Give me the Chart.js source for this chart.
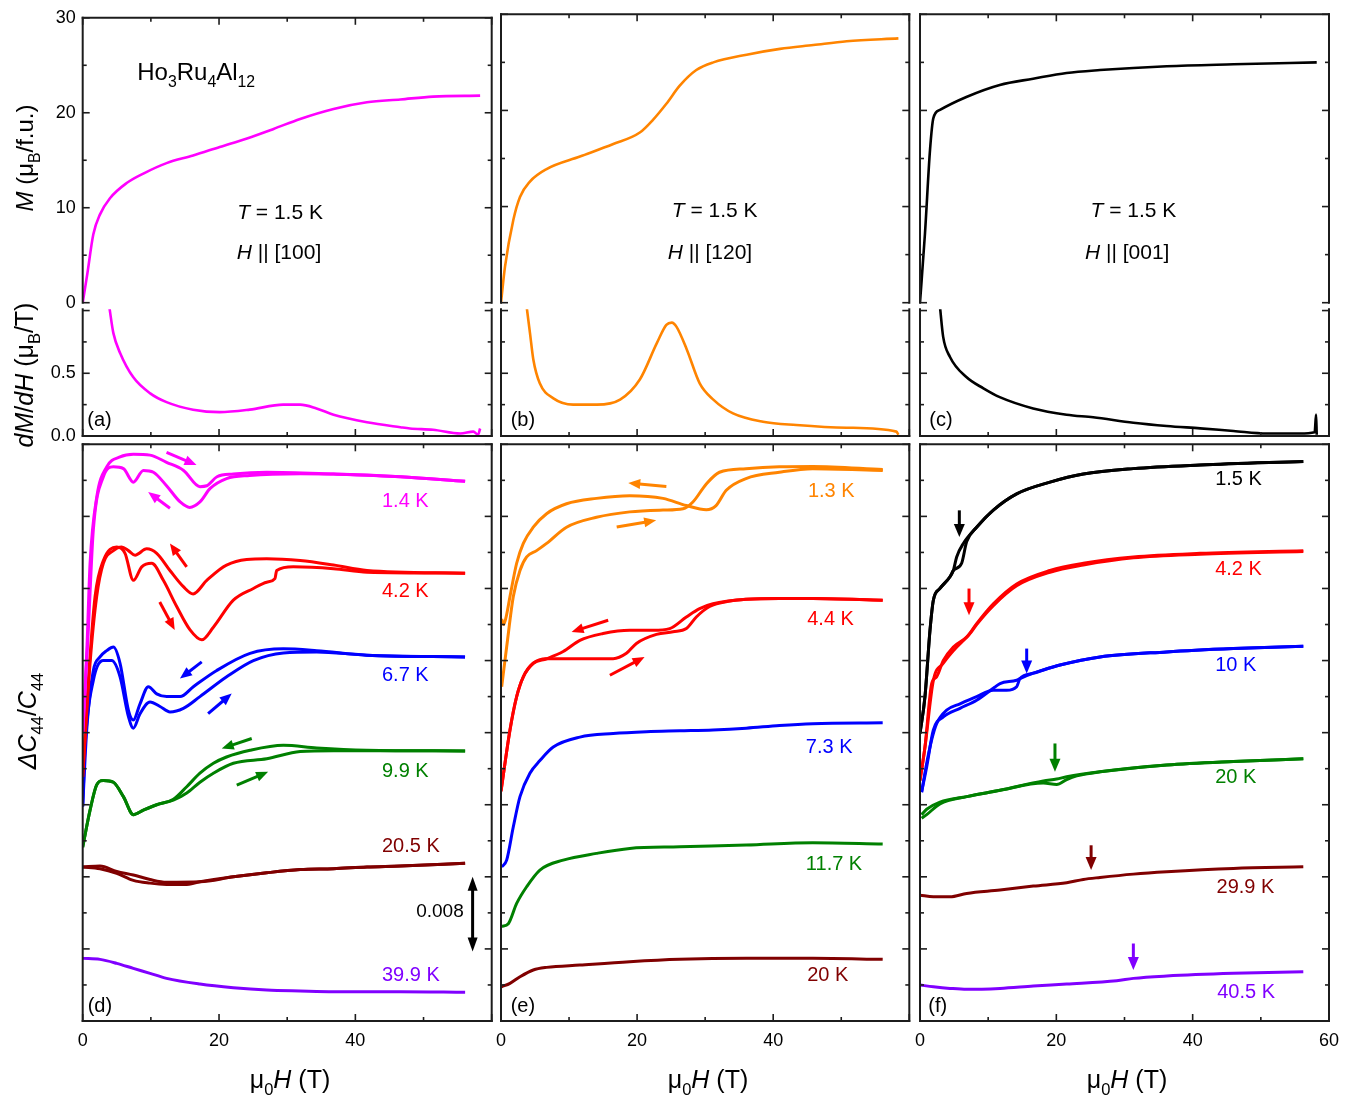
<!DOCTYPE html>
<html><head><meta charset="utf-8">
<script src="https://cdn.jsdelivr.net/npm/chart.js@4.4.1/dist/chart.umd.min.js"></script>
<style>
html,body{margin:0;padding:0;background:#fff;}
#wrap{position:relative;width:1355px;height:1100px;background:#fff;}
#wrap canvas{position:absolute;left:0;top:0;}
</style></head><body><div id="wrap"></div>
<script>
// ---------------- DATA (field in T, values) ----------------
// Top row: magnetization M (muB/f.u.) at 1.5 K
const M_100 = [[0,0],[0.68,3.05],[1.56,7.2],[2.54,9.3],[4.0,11.0],[6.45,12.6],[8.9,13.6],[12.3,14.7],[16.2,15.5],[20.1,16.4],[24.1,17.3],[28.0,18.3],[31.9,19.35],[36.8,20.4],[41.7,21.1],[46.6,21.4],[51.4,21.7],[58.3,21.8]];
const M_120 = [[0,0],[0.59,3.75],[1.81,8.6],[2.79,11.0],[4.25,12.6],[6.7,13.9],[11.6,15.2],[16.5,16.5],[20.4,17.7],[22.3,19.0],[24.3,20.7],[26.3,22.6],[28.7,24.2],[31.2,25.0],[36.1,25.8],[41.0,26.4],[45.9,26.8],[50.8,27.2],[58.4,27.5]];
const M_001 = [[0,0],[0.73,7.2],[1.47,15.9],[1.96,19.2],[2.93,20.05],[6.8,21.4],[11.7,22.65],[16.6,23.3],[21.5,23.9],[26.4,24.2],[36.2,24.6],[46.0,24.8],[58.2,25.0]];
// Middle row: dM/dH (muB/T)
const DM_100 = [[3.9,1.03],[4.5,0.82],[5.5,0.66],[7.4,0.47],[9.9,0.34],[12.3,0.27],[16.2,0.21],[20.1,0.19],[24.5,0.21],[29.4,0.25],[31.9,0.25],[34.3,0.22],[36.8,0.17],[41.7,0.11],[46.6,0.07],[48.0,0.06],[51.4,0.05],[55.4,0.02],[57.3,0.035],[58.0,0.01],[58.3,0.06]];
const DM_120 = [[3.77,1.03],[4.26,0.82],[4.75,0.61],[5.7,0.42],[7.7,0.30],[10.6,0.25],[14.1,0.25],[17.5,0.29],[20.4,0.45],[22.9,0.74],[24.3,0.886],[25.1,0.904],[25.8,0.87],[27.3,0.69],[29.2,0.42],[31.2,0.29],[34.1,0.18],[38.5,0.114],[43.4,0.088],[50.8,0.066],[58.1,0.035],[58.4,0.01]];
const DM_001 = [[2.93,1.03],[3.4,0.79],[4.4,0.63],[6.8,0.47],[9.3,0.38],[11.7,0.31],[16.6,0.22],[21.5,0.17],[25.4,0.149],[31.3,0.106],[36.2,0.08],[41.1,0.061],[46.0,0.04],[50.9,0.02],[55.7,0.02],[57.9,0.03],[58.1,0.17],[58.2,0.01]];
// Bottom row: ΔC44/C44 in units of 1e-3 (curves offset vertically)
// (d) H || [100]
const D_14_up = [[0,31.9],[0.6,41.0],[1.08,50.8],[2.05,58.1],[3.52,61.5],[5.48,62.6],[7.43,62.9],[9.88,62.8],[12.3,62.0],[14.8,61.1],[17.2,59.3],[18.2,59.4],[19.7,60.4],[22.1,60.7],[27.0,60.9],[36.8,60.7],[46.6,60.4],[56.1,59.9]];
const D_14_dn = [[0,31.9],[0.8,43.0],[1.56,54.5],[3.03,60.4],[4.5,61.5],[5.97,61.3],[7.43,59.8],[8.9,61.1],[10.37,60.9],[12.3,59.4],[14.3,57.6],[15.7,57.0],[17.2,57.6],[18.7,59.1],[21.1,60.2],[24.5,60.55],[31.9,60.74],[36.8,60.7],[46.6,60.4],[56.1,59.9]];
const D_42_dn = [[0,27.1],[1.08,39.7],[2.05,47.1],[3.03,50.8],[4.5,52.2],[5.72,52.6],[6.7,52.2],[7.68,51.7],[9.39,52.4],[10.86,51.9],[12.8,50.0],[14.77,48.2],[16.2,47.4],[18.2,48.9],[21.1,50.6],[27.0,51.3],[31.9,51.1],[36.8,50.6],[41.7,50.0],[56.1,49.7]];
const D_42_up = [[0,27.1],[0.83,37.8],[1.81,47.1],[3.03,51.1],[4.99,52.6],[6.21,51.9],[7.43,48.9],[8.66,50.4],[10.12,50.8],[11.83,48.9],[13.79,46.0],[15.75,43.4],[17.46,42.3],[19.17,43.7],[22.1,46.7],[25.04,48.0],[27.0,48.7],[28.2,49.1],[28.46,50.0],[30.9,50.4],[36.8,50.2],[41.7,49.8],[56.1,49.7]];
const D_67_dn = [[0,23.8],[0.59,32.3],[1.56,38.9],[2.54,40.4],[3.52,41.1],[4.5,41.5],[5.48,39.7],[6.7,34.5],[7.43,33.4],[8.41,35.2],[9.63,37.1],[10.86,36.3],[12.32,36.0],[14.28,36.0],[16.23,37.1],[19.66,38.9],[24.55,40.8],[29.44,41.3],[34.33,41.1],[41.66,40.6],[56.09,40.4]];
const D_67_up = [[0,23.8],[0.34,30.4],[1.56,37.8],[3.03,40.0],[4.25,40.0],[5.48,38.2],[6.7,33.8],[7.43,32.5],[8.41,34.1],[9.88,35.4],[11.34,34.9],[12.81,34.3],[14.77,34.7],[17.2,36.0],[21.12,38.2],[25.04,40.0],[29.44,40.85],[34.33,40.96],[41.66,40.6],[56.09,40.4]];
const D_99_dn = [[0,19.3],[1.08,23.4],[2.05,26.2],[3.03,26.7],[4.5,26.5],[5.97,24.9],[7.43,22.9],[8.9,23.4],[10.86,24.0],[13.3,24.6],[15.26,26.0],[17.2,27.5],[19.17,28.6],[21.1,29.3],[24.55,30.05],[29.44,30.6],[34.33,30.3],[41.66,30.05],[56.1,29.97]];
const D_99_up = [[0,19.3],[1.08,23.4],[2.05,26.2],[3.03,26.7],[4.5,26.5],[5.97,24.9],[7.43,22.9],[8.9,23.4],[10.86,24.0],[13.3,24.5],[15.26,25.3],[17.2,26.5],[19.17,27.5],[22.1,28.6],[27.0,29.1],[31.9,29.9],[36.8,30.0],[41.66,30.0],[56.1,29.97]];
const D_205_a = [[0,17.1],[2.54,17.2],[4.99,16.6],[7.43,16.2],[9.88,15.7],[12.3,15.4],[17.2,15.45],[22.1,16.0],[27.0,16.45],[31.9,16.8],[36.8,16.9],[41.7,17.1],[46.6,17.2],[56.1,17.5]];
const D_205_b = [[0,17.1],[2.54,16.9],[4.99,16.4],[7.43,15.6],[9.88,15.3],[12.3,15.16],[15.0,15.15],[17.2,15.45],[22.1,16.0],[27.0,16.45],[31.9,16.8],[36.8,16.9],[41.7,17.1],[46.6,17.2],[56.1,17.5]];
const D_399 = [[0,6.95],[2.54,6.84],[4.99,6.4],[7.43,5.84],[9.88,5.29],[12.3,4.73],[17.2,4.1],[22.1,3.7],[27.0,3.44],[31.9,3.33],[36.8,3.25],[46.6,3.25],[56.1,3.18]];
// (e) H || [120]
const E_13_dn = [[0.1,44.6],[0.4,44.0],[0.8,45.0],[1.32,47.1],[2.3,50.8],[3.28,53.0],[4.74,54.8],[6.7,56.3],[9.63,57.4],[14.03,58.0],[18.92,58.3],[23.81,58.0],[27.24,57.2],[30.17,56.74],[31.6,57.2],[33.1,58.9],[36.0,60.2],[40.9,60.9],[45.8,61.3],[56.1,61.1]];
const E_13_up = [[0.1,37.1],[0.83,41.5],[1.81,47.1],[2.79,50.0],[3.77,51.5],[5.23,52.2],[6.7,53.0],[9.63,54.8],[14.03,55.9],[18.92,56.5],[23.81,56.7],[26.75,56.85],[28.2,57.6],[30.17,59.6],[32.1,60.9],[36.0,61.3],[40.9,61.5],[45.8,61.55],[56.1,61.2]];
const E_44_dn = [[0,25.5],[1.32,32.3],[2.3,36.0],[3.28,38.2],[4.74,39.7],[6.7,40.2],[9.14,41.0],[11.59,42.25],[15.0,43.0],[18.92,43.36],[22.35,43.36],[24.79,43.55],[27.24,44.84],[29.19,45.77],[31.15,46.3],[36.04,46.8],[40.93,46.9],[45.82,46.9],[56.09,46.7]];
const E_44_up = [[0,25.5],[1.32,32.3],[2.3,36.0],[3.28,38.2],[4.74,39.7],[6.7,40.2],[8.66,40.2],[11.59,40.2],[16.48,40.2],[18.43,40.8],[19.9,41.9],[22.84,42.9],[25.28,43.2],[27.24,43.55],[28.7,44.84],[30.66,46.0],[33.6,46.6],[36.04,46.8],[40.93,46.9],[45.82,46.9],[56.09,46.7]];
const E_73 = [[0.1,17.1],[0.83,17.85],[1.81,21.55],[2.79,24.9],[4.25,27.5],[5.72,28.9],[7.68,30.4],[11.59,31.5],[16.48,31.9],[21.37,32.1],[26.26,32.2],[31.15,32.3],[36.04,32.5],[40.93,32.8],[45.82,33.0],[56.09,33.1]];
const E_117 = [[0.1,10.5],[1.08,10.8],[2.3,13.05],[3.77,14.9],[5.72,16.75],[9.14,17.85],[14.03,18.6],[18.92,19.15],[26.26,19.33],[36.04,19.52],[45.82,19.78],[56.09,19.63]];
const E_20 = [[0.1,3.8],[1.32,4.18],[2.79,4.91],[4.74,5.66],[6.7,5.95],[11.59,6.21],[18.92,6.58],[26.26,6.84],[36.04,6.95],[45.82,6.95],[56.09,6.84]];
// (f) H || [001]
const F_15_a = [[0,31.9],[0.73,36.0],[1.47,43.4],[1.96,46.7],[2.93,48.0],[4.4,49.3],[4.89,50.0],[5.38,51.5],[6.36,53.0],[8.31,54.8],[10.76,56.7],[14.18,58.5],[19.07,59.8],[23.96,60.7],[31.3,61.3],[41.08,61.7],[56.23,62.1]];
const F_15_b = [[0,31.9],[0.73,36.0],[1.47,43.4],[1.96,46.7],[2.93,48.0],[4.4,49.3],[4.89,50.0],[6.11,50.8],[6.85,53.2],[8.31,54.8],[10.76,56.7],[14.18,58.5],[19.07,59.8],[23.96,60.7],[31.3,61.3],[41.08,61.7],[56.23,62.1]];
const F_42_a = [[0,26.7],[0.73,30.4],[1.71,37.45],[2.44,38.2],[3.42,40.0],[4.89,41.5],[6.85,42.6],[8.31,44.1],[10.76,46.3],[14.18,48.5],[19.07,50.0],[23.96,50.8],[31.3,51.5],[41.08,51.9],[56.23,52.2]];
const F_42_b = [[0,26.7],[0.73,30.4],[1.96,37.8],[3.42,39.7],[4.89,41.1],[7.33,43.0],[8.31,44.0],[10.76,46.1],[14.18,48.3],[19.07,49.8],[23.96,50.6],[31.3,51.4],[41.08,51.8],[56.23,52.1]];
const F_10_a = [[0.24,25.4],[0.98,28.6],[1.71,31.2],[2.44,33.0],[3.91,34.5],[5.87,35.2],[8.31,36.0],[10.76,36.7],[12.71,36.7],[14.18,37.1],[14.67,38.0],[16.63,38.6],[20.54,39.5],[26.41,40.4],[36.19,40.96],[45.97,41.33],[56.23,41.6]];
const F_10_b = [[0.24,25.4],[0.98,28.2],[1.96,32.3],[3.42,33.75],[5.87,34.7],[8.31,35.6],[11.0,37.07],[11.74,37.45],[14.18,37.82],[14.67,38.0],[16.63,38.6],[20.54,39.5],[26.41,40.4],[36.19,40.96],[45.97,41.33],[56.23,41.6]];
const F_20_a = [[0.24,22.5],[0.98,22.9],[2.93,24.1],[6.85,24.9],[11.74,25.6],[18.09,26.65],[20.05,26.85],[21.52,27.1],[26.41,27.65],[36.19,28.4],[45.97,28.8],[56.23,29.1]];
const F_20_b = [[0.24,22.9],[0.98,23.5],[2.93,24.3],[6.85,24.9],[11.74,25.6],[18.09,26.4],[20.05,26.25],[21.52,26.8],[23.0,27.2],[26.41,27.65],[36.19,28.4],[45.97,28.8],[56.23,29.1]];
const F_299 = [[0,13.97],[1.96,13.79],[4.4,13.79],[6.85,14.16],[11.74,14.53],[16.63,14.97],[21.52,15.34],[23.96,15.71],[26.41,15.93],[31.3,16.3],[36.19,16.56],[45.97,16.93],[56.23,17.11]];
const F_405 = [[0,3.99],[1.96,3.8],[4.4,3.62],[6.85,3.51],[11.74,3.62],[16.63,3.88],[21.52,4.1],[28.85,4.47],[31.3,4.73],[36.19,4.99],[45.97,5.29],[56.23,5.47]];

// Temperature labels [text, field, value]
const LAB_D = [['1.4 K',43.9,57.8],['4.2 K',43.9,47.8],['6.7 K',43.9,38.5],['9.9 K',43.9,27.9],['20.5 K',43.9,19.5],['39.9 K',43.9,5.2]];
const LAB_E = [['1.3 K',45.1,58.9],['4.4 K',45.0,44.7],['7.3 K',44.8,30.5],['11.7 K',44.8,17.6],['20 K',45.0,5.2]];
const LAB_F = [['1.5 K',43.3,60.3],['4.2 K',43.3,50.3],['10 K',43.3,39.6],['20 K',43.3,27.2],['29.9 K',43.5,15.0],['40.5 K',43.6,3.4]];
// Sweep-direction arrows [H0, v0, H1, v1] (tail -> head)
const ARR_D = [[12.3,63.1,16.7,61.7],[12.8,56.9,9.6,58.7],[15.25,50.4,12.8,53.0],[11.3,46.5,13.5,43.4],[17.46,39.85,14.27,38.0],[18.4,34.1,21.86,36.34],[24.8,31.35,20.4,30.24],[22.6,26.17,27.2,27.65]];
const ARR_E = [[24.3,59.33,18.7,59.7],[17.0,54.82,22.8,55.56],[15.75,44.47,10.37,43.18],[16.0,38.37,21.1,40.4]];
const ARR_F = [[5.77,56.67,5.77,53.71],[7.19,47.99,7.19,45.03],[15.65,41.33,15.65,38.56],[19.8,30.8,19.8,27.65],[25.1,19.5,25.1,16.75],[31.3,8.6,31.3,5.66]];
const SCALE_BAR = [57.2,16.0,57.2,7.7]; // 0.008 = 8 units
const X_TICKS = [0,20,40,60];

// ---------------- STYLE ----------------
const FAM = 'Arial, "Liberation Sans", Helvetica, sans-serif';
const MAG='#ff00ff', ORG='#ff8400', BLK='#000000', RED='#ff0000', BLU='#0000ff', GRN='#008000', DRD='#800000', VIO='#8000ff';
const CW=1355, CH=1100;
const COLS=[[82.7,491.7],[501,909.3],[920,1329]];
const ROWS=[[14.3,302.7],[309.3,436],[444.3,1021]];

function drawRich(ctx, segs, x, y, size, color, align, base, rot){
  ctx.save(); ctx.translate(x,y); if(rot) ctx.rotate(rot);
  const items = segs.map(s=>{const fs = s.sub? size*0.66 : size; const font=(s.i?'italic ':'')+fs+'px '+FAM; ctx.font=font; return {s,font,w:ctx.measureText(s.t).width};});
  const total = items.reduce((a,b)=>a+b.w,0);
  let cx = align==='center'? -total/2 : align==='right'? -total : 0;
  const by = base==='middle'? size*0.36 : 0;
  ctx.fillStyle=color; ctx.textAlign='left'; ctx.textBaseline='alphabetic';
  for(const it of items){ ctx.font=it.font; ctx.fillText(it.s.t, cx, by + (it.s.sub? size*0.28:0)); cx+=it.w; }
  ctx.restore();
}
function arrowHead(ctx,x,y,ang,hl,hw){
  ctx.beginPath(); ctx.moveTo(x,y);
  ctx.lineTo(x-hl*Math.cos(ang)+hw/2*Math.sin(ang), y-hl*Math.sin(ang)-hw/2*Math.cos(ang));
  ctx.lineTo(x-hl*Math.cos(ang)-hw/2*Math.sin(ang), y-hl*Math.sin(ang)+hw/2*Math.cos(ang));
  ctx.closePath(); ctx.fill();
}
function drawArrow(ctx,x0,y0,x1,y1,color,lw,hl,hw,both){
  const ang=Math.atan2(y1-y0,x1-x0);
  ctx.strokeStyle=color; ctx.fillStyle=color; ctx.lineWidth=lw; ctx.lineCap='butt';
  let sx=x0, sy=y0; if(both){ sx=x0+Math.cos(ang)*hl*0.7; sy=y0+Math.sin(ang)*hl*0.7; }
  ctx.beginPath(); ctx.moveTo(sx,sy); ctx.lineTo(x1-Math.cos(ang)*hl*0.7, y1-Math.sin(ang)*hl*0.7); ctx.stroke();
  arrowHead(ctx,x1,y1,ang,hl,hw); if(both) arrowHead(ctx,x0,y0,ang+Math.PI,hl,hw);
}

const framePlugin = {
  id:'frame',
  afterDraw(chart,args,o){
    const ctx=chart.ctx, a=chart.chartArea, xs=chart.scales.x, ys=chart.scales.y;
    ctx.save();
    ctx.strokeStyle='#1c1c1c'; ctx.lineWidth=1.6; ctx.lineCap='butt';
    const seg=(x0,y0,x1,y1)=>{ctx.beginPath();ctx.moveTo(x0,y0);ctx.lineTo(x1,y1);ctx.stroke();};
    for(let v=0; v<=60; v+=10){ const px=xs.getPixelForValue(v); const L=(v%20===0)?7:4;
      if(o.xTop) seg(px,a.top,px,a.top+L);
      if(o.xBot) seg(px,a.bottom,px,a.bottom-L); }
    for(let v=o.ymin; v<=o.ymax+1e-9; v+=o.yMinor){ const py=ys.getPixelForValue(v);
      const maj=Math.abs(v/o.yMajor-Math.round(v/o.yMajor))<1e-6; const L=maj?7:4;
      seg(a.left,py,a.left+L,py); seg(a.right,py,a.right-L,py); }
    ctx.lineWidth=2; ctx.strokeStyle='#1c1c1c';
    if(o.sides.includes('l')) seg(a.left,a.top-1,a.left,a.bottom+1);
    if(o.sides.includes('r')) seg(a.right,a.top-1,a.right,a.bottom+1);
    if(o.sides.includes('t')) seg(a.left-1,a.top,a.right+1,a.top);
    if(o.sides.includes('b')) seg(a.left-1,a.bottom,a.right+1,a.bottom);
    for(const t of (o.texts||[])){
      const px = t.abs? t.x : xs.getPixelForValue(t.x);
      const py = t.abs? t.y : ys.getPixelForValue(t.y);
      drawRich(ctx,t.segs,px,py,t.size,t.color||'#000',t.align||'left',t.base||'middle',t.rot||0);
    }
    for(const ar of (o.arrows||[])){
      drawArrow(ctx,xs.getPixelForValue(ar.d[0]),ys.getPixelForValue(ar.d[1]),xs.getPixelForValue(ar.d[2]),ys.getPixelForValue(ar.d[3]),ar.c,ar.lw||3,ar.hl||12,ar.hw||10,ar.both);
    }
    ctx.restore();
  }
};

function makePanel(p){
  const cv=document.createElement('canvas'); cv.width=CW; cv.height=CH; cv.style.width=CW+'px'; cv.style.height=CH+'px';
  document.getElementById('wrap').appendChild(cv);
  const [L,R]=COLS[p.col], [T,B]=ROWS[p.row];
  const yW=p.yLab?60:0, xH=p.xLab?40:0;
  const bw = p.bw||2.6;
  new Chart(cv,{
    type:'scatter',
    data:{datasets:p.series.map(s=>({data:s.d.map(q=>({x:q[0],y:q[1]})),borderColor:s.c,backgroundColor:s.c,showLine:true,pointRadius:0,borderWidth:bw,cubicInterpolationMode:'monotone',fill:false}))},
    options:{
      responsive:false, animation:false, devicePixelRatio:1, events:[],
      layout:{padding:{left:L-yW, top:T, right:CW-R, bottom:CH-B-xH}},
      plugins:{legend:{display:false},tooltip:{enabled:false},
        frame:{xTop:p.xTop,xBot:p.xBot,ymin:p.ymin,ymax:p.ymaxTick,yMajor:p.yMajor,yMinor:p.yMinor,sides:p.sides,texts:p.texts,arrows:p.arrows}},
      scales:{
        x:{type:'linear',min:0,max:60,position:'bottom',grid:{display:false,drawTicks:false,tickLength:0},border:{display:false},
           afterBuildTicks:(s)=>{s.ticks=X_TICKS.map(v=>({value:v}));},
           ticks:{display:!!p.xLab,autoSkip:false,maxRotation:0,padding:9,color:'#000',font:{family:FAM,size:18},
             callback:(v)=> (p.hide60 && v===60)?'':String(v)},
           afterFit:(s)=>{s.height=xH;}},
        y:{type:'linear',min:p.ymin,max:p.ymax,position:'left',grid:{display:false,drawTicks:false,tickLength:0},border:{display:false},
           afterBuildTicks:(s)=>{ if(p.yLabVals) s.ticks=p.yLabVals.map(v=>({value:v})); },
           ticks:{display:!!p.yLab,autoSkip:false,padding:7,color:'#000',font:{family:FAM,size:18},
             callback:(v)=> p.yFmt? p.yFmt(v) : String(v)},
           afterFit:(s)=>{s.width=yW;}}
      }
    },
    plugins:[framePlugin]
  });
}

// text helpers
const S=(t)=>({t}), I=(t)=>({t,i:1}), SB=(t)=>({t,sub:1});
const tempTexts=(arr,c)=>arr.map((l,k)=>({segs:[S(l[0])],x:l[1],y:l[2],size:20,color:c[k],align:'left',base:'middle'}));
const TH=(hx,tx,dir)=>[
  {segs:[I('T'),S(' = 1.5 K')],x:tx,y:9.65,size:21,align:'center'},
  {segs:[I('H'),S(' || ['+dir+']')],x:hx,y:5.38,size:21,align:'center'}];
const xTitle=(cx)=>({abs:1,segs:[S('μ'),SB('0'),I('H'),S(' (T)')],x:cx,y:1088,size:25,align:'center',base:'alphabetic'});

// ---- top row
makePanel({col:0,row:0,ymin:0,ymax:30,ymaxTick:30,yMajor:10,yMinor:5,yLab:1,yLabVals:[0,10,20,30],xTop:1,sides:'ltr',
  series:[{d:M_100,c:MAG}],
  texts:[{segs:[S('Ho'),SB('3'),S('Ru'),SB('4'),S('Al'),SB('12')],x:8.0,y:23.4,size:24,base:'alphabetic'},
    ...TH(28.8,28.95,'100'),
    {abs:1,segs:[I('M'),S(' (μ'),SB('B'),S('/f.u.)')],x:33,y:158,size:24,align:'center',base:'alphabetic',rot:-Math.PI/2}]});
makePanel({col:1,row:0,ymin:0,ymax:30,ymaxTick:30,yMajor:10,yMinor:5,xTop:1,sides:'ltr',
  series:[{d:M_120,c:ORG}], texts:[...TH(30.7,31.4,'120')]});
makePanel({col:2,row:0,ymin:0,ymax:30,ymaxTick:30,yMajor:10,yMinor:5,xTop:1,sides:'ltr',
  series:[{d:M_001,c:BLK}], texts:[...TH(30.4,31.3,'001')]});
// ---- middle row
const fmtDM=(v)=> (Math.abs(v)<1e-9)?'0.0':(Math.abs(v-0.5)<1e-9?'0.5':'');
makePanel({col:0,row:1,ymin:0,ymax:1.01,ymaxTick:1.0,yMajor:0.5,yMinor:0.25,yLab:1,yLabVals:[0,0.5],yFmt:fmtDM,xBot:1,sides:'lrb',
  series:[{d:DM_100,c:MAG}],
  texts:[{segs:[S('(a)')],x:0.67,y:0.135,size:20},
    {abs:1,segs:[I('dM'),S('/'),I('dH'),S(' (μ'),SB('B'),S('/T)')],x:33,y:375,size:25,align:'center',base:'alphabetic',rot:-Math.PI/2}]});
makePanel({col:1,row:1,ymin:0,ymax:1.01,ymaxTick:1.0,yMajor:0.5,yMinor:0.25,xBot:1,sides:'lrb',
  series:[{d:DM_120,c:ORG}], texts:[{segs:[S('(b)')],x:1.42,y:0.135,size:20}]});
makePanel({col:2,row:1,ymin:0,ymax:1.01,ymaxTick:1.0,yMajor:0.5,yMinor:0.25,xBot:1,sides:'lrb',
  series:[{d:DM_001,c:BLK}], texts:[{segs:[S('(c)')],x:1.37,y:0.135,size:20}]});
// ---- bottom row
makePanel({col:0,row:2,ymin:0,ymax:64,ymaxTick:64,yMajor:8,yMinor:4,xLab:1,hide60:1,xTop:1,xBot:1,sides:'lrtb',bw:3,
  series:[{d:D_14_up,c:MAG},{d:D_14_dn,c:MAG},{d:D_42_dn,c:RED},{d:D_42_up,c:RED},{d:D_67_dn,c:BLU},{d:D_67_up,c:BLU},
          {d:D_99_dn,c:GRN},{d:D_99_up,c:GRN},{d:D_205_a,c:DRD},{d:D_205_b,c:DRD},{d:D_399,c:VIO}],
  texts:[...tempTexts(LAB_D,[MAG,RED,BLU,GRN,DRD,VIO]),
    {segs:[S('(d)')],x:0.73,y:1.77,size:20},
    {segs:[S('0.008')],x:55.9,y:12.3,size:19,align:'right'},
    xTitle(290),
    {abs:1,segs:[I('ΔC'),SB('44'),S('/'),I('C'),SB('44')],x:36,y:721,size:25,align:'center',base:'alphabetic',rot:-Math.PI/2}],
  arrows:[...ARR_D.map((d,k)=>({d,c:[MAG,MAG,RED,RED,BLU,BLU,GRN,GRN][k]})),{d:SCALE_BAR,c:BLK,both:1,hl:14,hw:10}]});
makePanel({col:1,row:2,ymin:0,ymax:64,ymaxTick:64,yMajor:8,yMinor:4,xLab:1,hide60:1,xTop:1,xBot:1,sides:'lrtb',bw:3,
  series:[{d:E_13_dn,c:ORG},{d:E_13_up,c:ORG},{d:E_44_dn,c:RED},{d:E_44_up,c:RED},{d:E_73,c:BLU},{d:E_117,c:GRN},{d:E_20,c:DRD}],
  texts:[...tempTexts(LAB_E,[ORG,RED,BLU,GRN,DRD]),{segs:[S('(e)')],x:1.42,y:1.77,size:20},xTitle(708)],
  arrows:ARR_E.map((d,k)=>({d,c:[ORG,ORG,RED,RED][k]}))});
makePanel({col:2,row:2,ymin:0,ymax:64,ymaxTick:64,yMajor:8,yMinor:4,xLab:1,xTop:1,xBot:1,sides:'lrtb',bw:3,
  series:[{d:F_15_a,c:BLK},{d:F_15_b,c:BLK},{d:F_42_a,c:RED},{d:F_42_b,c:RED},{d:F_10_a,c:BLU},{d:F_10_b,c:BLU},
          {d:F_20_a,c:GRN},{d:F_20_b,c:GRN},{d:F_299,c:DRD},{d:F_405,c:VIO}],
  texts:[...tempTexts(LAB_F,[BLK,RED,BLU,GRN,DRD,VIO]),{segs:[S('(f)')],x:1.22,y:1.77,size:20},xTitle(1127)],
  arrows:ARR_F.map((d,k)=>({d,c:[BLK,RED,BLU,GRN,DRD,VIO][k],hl:13,hw:11}))});
</script></body></html>
